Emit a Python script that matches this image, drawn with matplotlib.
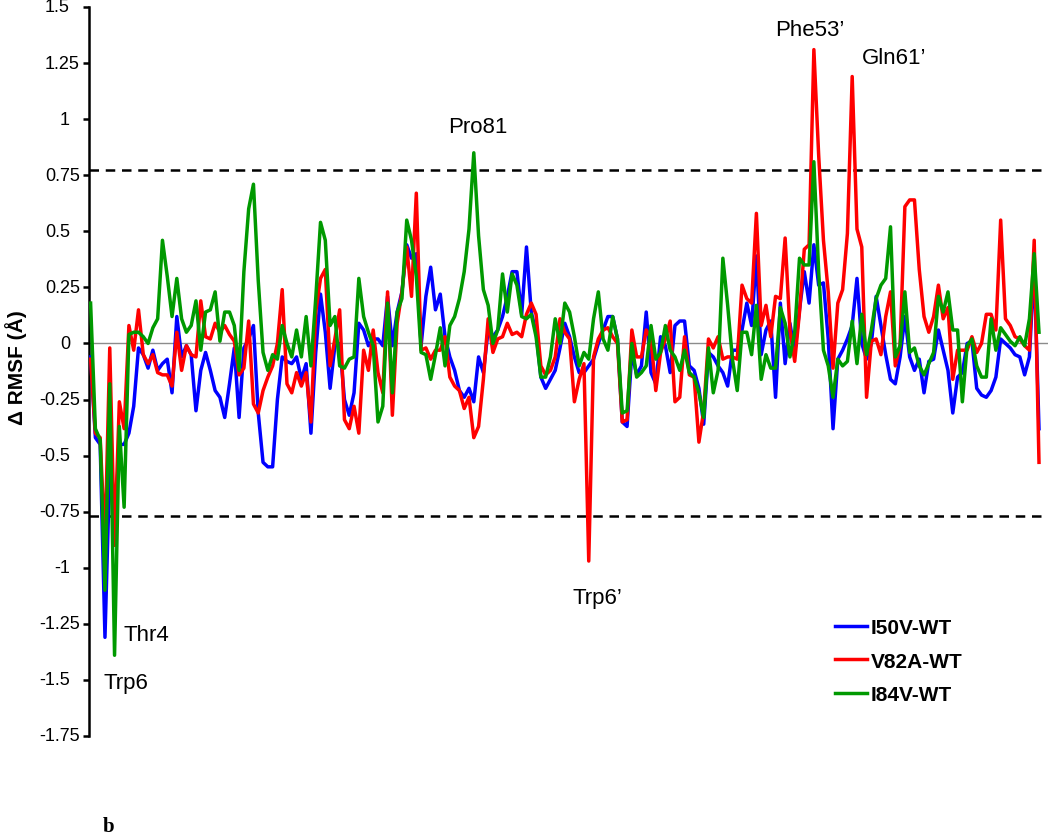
import matplotlib
matplotlib.use("Agg")
import matplotlib.pyplot as plt
from matplotlib import transforms
import numpy as np

# ---------------- data ----------------
i50v_wt = [
    -0.06, -0.42, -0.45, -1.31, -0.55, -0.82, -0.45, -0.45, -0.40, -0.28,
    -0.02, -0.05, -0.11, -0.03, -0.12, -0.09, -0.07, -0.22, 0.12, -0.06,
    -0.01, -0.05, -0.30, -0.12, -0.04, -0.12, -0.21, -0.24, -0.33, -0.18,
    -0.02, -0.33, -0.02, 0.02, 0.08, -0.31, -0.53, -0.55, -0.55, -0.25,
    -0.06, -0.08, -0.09, -0.06, -0.16, -0.09, -0.40, -0.04, 0.22, 0.05,
    -0.20, -0.01, 0.00, -0.25, -0.32, -0.22, 0.09, 0.06, -0.01, 0.02,
    0.02, -0.01, 0.21, -0.01, 0.14, 0.23, 0.44, 0.38, 0.40, -0.01,
    0.21, 0.34, 0.15, 0.22, 0.03, -0.06, -0.12, -0.21, -0.24, -0.20,
    -0.26, -0.06, -0.13, 0.06, 0.03, 0.06, 0.12, 0.21, 0.32, 0.32,
    0.13, 0.43, 0.14, 0.05, -0.15, -0.20, -0.16, -0.12, -0.02, 0.09,
    0.03, -0.06, -0.13, -0.13, -0.10, -0.07, 0.00, 0.06, 0.12, 0.12,
    0.02, -0.35, -0.37, -0.04, -0.14, -0.10, 0.14, -0.13, -0.18, 0.03,
    -0.01, -0.13, 0.08, 0.10, 0.10, -0.10, -0.12, -0.20, -0.36, -0.04,
    -0.06, -0.10, -0.13, -0.19, -0.03, -0.03, 0.06, 0.18, 0.08, 0.39,
    -0.05, 0.06, 0.10, -0.24, 0.18, -0.09, 0.09, -0.04, 0.15, 0.32,
    0.18, 0.44, 0.26, 0.27, 0.02, -0.38, -0.07, -0.03, 0.02, 0.08,
    0.29, 0.00, -0.07, 0.00, 0.21, 0.08, -0.05, -0.16, -0.18, -0.06,
    0.12, -0.06, -0.12, -0.07, -0.22, -0.08, -0.07, 0.06, -0.03, -0.12,
    -0.31, -0.15, -0.13, 0.00, 0.01, -0.20, -0.23, -0.24, -0.21, -0.15,
    0.02, 0.00, -0.02, -0.05, -0.06, -0.14, -0.06, 0.35, -0.38,
]

v82a_wt = [
    -0.07, -0.40, -0.42, -0.90, -0.02, -0.90, -0.26, -0.38, 0.08, -0.03,
    0.15, -0.05, -0.09, -0.05, -0.13, -0.14, -0.14, -0.19, 0.05, -0.12,
    -0.01, -0.05, -0.06, 0.19, 0.03, 0.02, 0.09, 0.05, 0.08, 0.04,
    0.01, -0.14, -0.11, 0.10, -0.27, -0.31, -0.21, -0.15, -0.10, 0.00,
    0.24, -0.18, -0.22, -0.13, -0.19, -0.13, -0.35, 0.14, 0.29, 0.33,
    -0.10, 0.02, 0.15, -0.34, -0.38, -0.28, -0.40, -0.03, -0.12, 0.06,
    -0.13, -0.22, 0.23, -0.32, 0.09, 0.23, 0.43, 0.21, 0.67, -0.03,
    -0.02, -0.07, -0.03, -0.03, 0.03, -0.15, -0.19, -0.21, -0.29, -0.24,
    -0.42, -0.37, -0.16, 0.11, -0.04, 0.02, 0.03, 0.09, 0.04, 0.05,
    0.03, 0.13, 0.18, 0.13, -0.10, -0.14, -0.12, -0.06, 0.11, 0.05,
    0.02, -0.26, -0.16, -0.09, -0.97, -0.06, 0.02, 0.06, 0.07, 0.03,
    0.00, -0.35, -0.34, 0.06, -0.06, -0.06, 0.06, 0.02, -0.21, -0.04,
    0.02, 0.10, -0.26, -0.24, 0.03, -0.14, -0.15, -0.44, -0.30, 0.02,
    -0.02, 0.03, -0.07, -0.06, -0.06, -0.07, 0.26, 0.20, 0.18, 0.58,
    0.08, 0.17, 0.03, 0.21, 0.20, 0.47, 0.06, -0.08, 0.14, 0.42,
    0.44, 1.31, 0.84, 0.46, 0.23, -0.11, 0.18, 0.24, 0.49, 1.19,
    0.51, 0.43, -0.24, 0.01, 0.02, -0.05, 0.12, 0.23, -0.10, -0.01,
    0.61, 0.64, 0.64, 0.33, 0.12, 0.05, 0.12, 0.26, 0.11, 0.16,
    -0.16, -0.03, -0.03, -0.03, 0.03, -0.04, 0.00, 0.13, 0.13, 0.06,
    0.55, 0.11, 0.08, 0.03, 0.02, -0.01, -0.03, 0.46, -0.53,
]

i84v_wt = [
    0.18, -0.38, -0.43, -1.10, -0.18, -1.39, -0.37, -0.73, 0.04, 0.05,
    0.05, 0.03, 0.00, 0.07, 0.11, 0.46, 0.30, 0.12, 0.29, 0.11,
    0.05, 0.08, 0.19, -0.03, 0.14, 0.15, 0.23, 0.01, 0.14, 0.14,
    0.08, -0.12, 0.32, 0.60, 0.71, 0.28, -0.04, -0.12, -0.05, -0.07,
    0.08, 0.00, -0.06, 0.06, -0.06, 0.12, -0.10, 0.20, 0.54, 0.46,
    0.08, 0.12, -0.10, -0.11, -0.07, -0.06, 0.29, 0.12, 0.05, -0.01,
    -0.35, -0.28, 0.18, -0.22, 0.14, 0.20, 0.55, 0.46, 0.30, -0.04,
    -0.05, -0.16, -0.05, 0.07, -0.10, 0.08, 0.12, 0.20, 0.32, 0.51,
    0.85, 0.48, 0.24, 0.17, 0.00, 0.06, 0.31, 0.14, 0.31, 0.26,
    0.12, 0.11, 0.13, 0.03, -0.15, -0.15, -0.06, 0.11, 0.00, 0.18,
    0.14, 0.03, -0.10, -0.04, -0.07, 0.11, 0.23, 0.02, -0.03, 0.12,
    0.02, -0.31, -0.30, 0.00, -0.15, -0.13, -0.10, 0.08, -0.07, -0.04,
    0.08, -0.03, -0.06, -0.12, -0.03, -0.13, -0.15, -0.22, -0.33, -0.02,
    -0.22, -0.12, 0.38, 0.17, -0.07, -0.21, 0.05, 0.05, -0.05, 0.17,
    -0.16, -0.05, -0.11, -0.11, 0.16, 0.09, -0.06, 0.05, 0.38, 0.35,
    0.35, 0.81, 0.32, -0.03, -0.10, -0.24, -0.07, -0.10, -0.08, 0.10,
    -0.09, 0.13, -0.05, 0.06, 0.20, 0.26, 0.29, 0.52, -0.06, -0.01,
    0.23, -0.04, -0.02, -0.10, -0.14, -0.09, -0.04, 0.21, 0.14, 0.23,
    0.06, 0.06, -0.26, -0.01, 0.02, -0.10, -0.15, -0.15, 0.11, -0.03,
    0.07, 0.04, 0.01, -0.01, 0.03, -0.01, 0.11, 0.40, 0.05,
]

series_names = ["I50V-WT", "V82A-WT", "I84V-WT"]
series_colors = ["#0000FF", "#FF0000", "#009900"]

y_ticks = [1.5, 1.25, 1, 0.75, 0.5, 0.25, 0, -0.25, -0.5, -0.75, -1, -1.25, -1.5, -1.75]
y_tick_labels = ["1.5", "1.25", "1", "0.75", "0.5", "0.25", "0", "-0.25", "-0.5",
                 "-0.75", "-1", "-1.25", "-1.5", "-1.75"]
threshold_upper = 0.775
threshold_lower = -0.77

annotations = [  # (text, residue-x, y baseline)
    ("Pro81", 81.9, 0.942),
    ("Phe53\u2019", 151.1, 1.375),
    ("Gln61\u2019", 168.8, 1.25),
    ("Trp6\u2019", 106.7, -1.156),
    ("Thr4", 12.6, -1.321),
    ("Trp6", 8.4, -1.536),
]

# ---------------- figure ----------------
plt.rcParams['font.family'] = ['Liberation Sans', 'DejaVu Sans']
W, H = 1050, 837
fig = plt.figure(figsize=(W / 100, H / 100), dpi=100)
ax = fig.add_axes([89 / W, (H - 737) / H, (1048 - 89) / W, (737 - 8) / H])

residues = np.arange(1, len(i50v_wt) + 1)
for vals, name, col in zip([i50v_wt, v82a_wt, i84v_wt], series_names, series_colors):
    ax.plot(residues, vals, color=col, lw=2.5, label=name, zorder=3)

ax.axhline(0, color='#8c8c8c', lw=1.0, zorder=1)
ax.axhline(threshold_upper, color='black', lw=1.8, ls=(0, (3.8, 2.7)), zorder=2)
ax.axhline(threshold_lower, color='black', lw=1.8, ls=(0, (3.8, 2.7)), zorder=2)

ax.set_xlim(0.666, 200.88)
ax.set_ylim(-1.75, 1.5)

for s in ['top', 'right', 'bottom']:
    ax.spines[s].set_visible(False)
ax.spines['left'].set_linewidth(1.8)
ax.spines['left'].set_color('black')
ax.set_xticks([])
ax.set_yticks(y_ticks)
ax.tick_params(axis='y', direction='out', length=4.5, width=1.8, labelleft=False)

# tick labels (two-decimal labels extend further right, as in the original)
for v, lab in zip(y_ticks, y_tick_labels):
    dec = len(lab.split('.')[1]) if '.' in lab else 0
    off_px = -9 if dec == 2 else -19
    tr = transforms.blended_transform_factory(ax.transAxes, ax.transData) + \
        transforms.ScaledTranslation(off_px / 100, 0, fig.dpi_scale_trans)
    ax.text(0, v, lab, transform=tr, ha='right', va='center', fontsize=13, color='black')

fig.text(16 / W, 1 - 368 / H, "\u0394 RMSF (\u00c5)", rotation=90, ha='center', va='center',
         fontsize=15, fontweight='bold')

for txt, xx, yy in annotations:
    ax.text(xx, yy, txt, ha='center', va='baseline', fontsize=16, color='black', zorder=5)

leg = ax.legend(loc='upper left', bbox_to_anchor=(835 / W, 1 - 619 / H),
                bbox_transform=fig.transFigure, frameon=False, borderpad=0,
                borderaxespad=0, handlelength=1.55, handletextpad=0.15,
                labelspacing=0.7, prop={'size': 15, 'weight': 'bold'})
for line in leg.get_lines():
    line.set_linewidth(2.5)

fig.text(103 / W, 5 / H, "b", fontsize=15, fontweight='bold', family=['Liberation Serif', 'DejaVu Serif'],
         ha='left', va='baseline')

fig.savefig("out.png", dpi=100)
